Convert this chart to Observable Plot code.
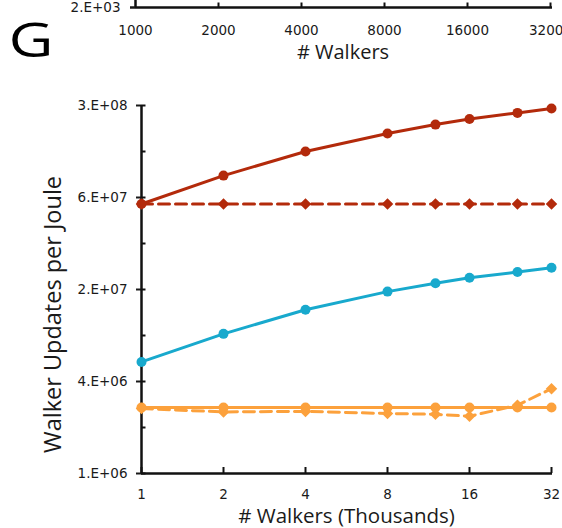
<!DOCTYPE html>
<html><head><meta charset="utf-8">
<script src="https://cdn.jsdelivr.net/npm/d3@7"></script>
<script src="https://cdn.jsdelivr.net/npm/@observablehq/plot@0.6"></script>
<style>
html,body{margin:0;padding:0;background:#fff;}
#chart{width:562px;height:528px;position:relative;overflow:hidden;background:#fff;}
#chart svg{display:block;}
#chart g[aria-label$="tick label"]{font-size:13.5px;font-family:'DejaVu Sans',sans-serif;fill:#1a1a1a;}
</style></head><body><div id="chart"></div>
<script>
// ---- data ----
const walkers = [1, 2, 4, 8, 12, 16, 24, 32];
const redSolid = [5.8e7, 8.9e7, 1.28e8, 1.68e8, 1.92e8, 2.09e8, 2.29e8, 2.45e8];
const redDashed = [5.8e7, 5.8e7, 5.8e7, 5.8e7, 5.8e7, 5.8e7, 5.8e7, 5.8e7];
const blueSolid = [5.37e6, 8.2e6, 1.18e7, 1.55e7, 1.76e7, 1.91e7, 2.08e7, 2.22e7];
const orangeSolid = [2.7e6, 2.7e6, 2.7e6, 2.7e6, 2.7e6, 2.7e6, 2.7e6, 2.7e6];
const orangeDashed = [2.66e6, 2.53e6, 2.55e6, 2.47e6, 2.44e6, 2.37e6, 2.8e6, 3.59e6];

const xTicks = [1, 2, 4, 8, 16, 32];
const xTickLabels = ["1", "2", "4", "8", "16", "32"];
const yTicks = [1e6, 4e6, 1.6e7, 6.4e7, 2.56e8];
const yTickLabels = ["1.E+06", "4.E+06", "2.E+07", "6.E+07", "3.E+08"];
const yMinorTicks = [2e6, 8e6, 3.2e7, 1.28e8];

const topXTicks = [1000, 2000, 4000, 8000, 16000, 32000];
const topXTickLabels = ["1000", "2000", "4000", "8000", "16000", "32000"];
const topYTicks = [2048];
const topYTickLabels = ["2.E+03"];

const panelLabel = "G";
const xLabel = "# Walkers (Thousands)";
const yLabel = "Walker Updates per Joule";
const topXLabel = "# Walkers";

// ---- styling (kept out of the data) ----
const seriesList = [
  {values: orangeDashed, color: "#fca13c", dashed: true},
  {values: orangeSolid, color: "#fca13c", dashed: false},
  {values: blueSolid, color: "#18a9cd", dashed: false},
  {values: redDashed, color: "#b32a0b", dashed: true},
  {values: redSolid, color: "#b32a0b", dashed: false}
];

const labelFont = "'Open Sans', sans-serif";
const tickFont = "'DejaVu Sans', sans-serif";
const tickSizePx = 13.5;
const ink = "#1a1a1a";

const fmt = (ticks, labels) => d => labels[ticks.indexOf(d)];

// ---- top (cropped) panel ----
const tW = 562, tH = 62, tL = 135, tR = 12, tT = 0, tB = 55;
const topPlot = Plot.plot({
  width: tW, height: tH, marginLeft: tL, marginRight: tR, marginTop: tT, marginBottom: tB,
  style: {fontFamily: tickFont, fontSize: tickSizePx + "px", color: ink, background: "#fff", overflow: "visible"},
  x: {type: "log", base: 2, domain: [topXTicks[0], topXTicks[topXTicks.length - 1]]},
  y: {type: "log", domain: [topYTicks[0], topYTicks[0] * 4]},
  marks: [
    Plot.ruleX([topXTicks[0]], {strokeWidth: 2.5, stroke: "#111"}),
    Plot.ruleY(topYTicks, {strokeWidth: 2.5, stroke: "#111", insetRight: -2}),
    Plot.tickX(topXTicks.slice(1), {x: d => d, insetTop: 2.5, strokeWidth: 2, stroke: "#111"}),
    Plot.axisY({ticks: topYTicks, tickFormat: fmt(topYTicks, topYTickLabels), tickSize: 5, tickPadding: 10, strokeWidth: 2.5, label: null, fontSize: tickSizePx, fill: ink}),
    Plot.axisX({ticks: topXTicks, tickFormat: fmt(topXTicks, topXTickLabels), tickSize: 0, tickPadding: 18, label: null, fontSize: tickSizePx, fill: ink}),
    Plot.text([topXLabel], {text: d => d, frameAnchor: "bottom", lineAnchor: "middle", textAnchor: "middle", dy: 45, fontSize: 20, fontFamily: labelFont, fill: ink}),
    Plot.text([panelLabel], {text: d => d, frameAnchor: "top-left", dx: -127, dy: 23, textAnchor: "start", lineAnchor: "top", fontSize: 47, fontFamily: labelFont, fill: "#000"})
  ]
});

// stretch the panel letter to the reference's wide G
for (const t of topPlot.querySelectorAll("text")) {
  if (t.textContent === panelLabel) {
    t.setAttribute("textLength", 45);
    t.setAttribute("lengthAdjust", "spacingAndGlyphs");
  }
}

// ---- main panel ----
const W = 562, H = 466, mL = 141, mR = 11, mT = 43, mB = 55;
const innerW = W - mL - mR, innerH = H - mT - mB;

const seriesMarks = seriesList.flatMap(s => {
  const rows = walkers.map((x, i) => ({x, y: s.values[i]}));
  return [
    Plot.line(rows, {x: "x", y: "y", stroke: s.color, strokeWidth: 3, strokeDasharray: s.dashed ? "11,6" : null}),
    Plot.dot(rows, {x: "x", y: "y", fill: s.color, stroke: "none", r: s.dashed ? 5.2 : 5, symbol: s.dashed ? "diamond2" : "circle"})
  ];
});

const mainPlot = Plot.plot({
  width: W, height: H, marginLeft: mL, marginRight: mR, marginTop: mT, marginBottom: mB,
  style: {fontFamily: tickFont, fontSize: tickSizePx + "px", color: ink, background: "#fff", overflow: "visible"},
  x: {type: "log", base: 2, domain: [xTicks[0], xTicks[xTicks.length - 1]]},
  y: {type: "log", base: 4, domain: [yTicks[0], yTicks[yTicks.length - 1]]},
  marks: [
    Plot.axisX({ticks: xTicks, tickFormat: fmt(xTicks, xTickLabels), tickSize: 0, tickPadding: 16, label: null, fontSize: tickSizePx, fill: ink}),
    Plot.axisY({ticks: yTicks, tickFormat: fmt(yTicks, yTickLabels), tickSize: 5, tickPadding: 9, strokeWidth: 2, label: null, fontSize: tickSizePx, fill: ink}),
    Plot.tickY(yTicks, {y: d => d, insetRight: innerW - 4.5, strokeWidth: 2, stroke: "#111"}),
    Plot.tickY(yMinorTicks, {y: d => d, insetRight: innerW - 4.5, strokeWidth: 2, stroke: "#111"}),
    Plot.tickX(xTicks, {x: d => d, insetTop: innerH - 6, strokeWidth: 2, stroke: "#111"}),
    Plot.ruleX([xTicks[0]], {strokeWidth: 2.5, stroke: "#111"}),
    Plot.ruleY([yTicks[0]], {strokeWidth: 2.5, stroke: "#111", insetRight: -1}),
    ...seriesMarks,
    Plot.text([yLabel], {text: d => d, frameAnchor: "left", rotate: -90, textAnchor: "middle", lineAnchor: "middle", dx: -88, dy: 25, fontSize: 23.5, fontFamily: labelFont, fill: ink}),
    Plot.text([xLabel], {text: d => d, frameAnchor: "bottom", textAnchor: "middle", lineAnchor: "middle", dy: 42.5, fontSize: 20.5, fontFamily: labelFont, fill: ink})
  ]
});

const chart = document.getElementById("chart");
chart.appendChild(topPlot);
chart.appendChild(mainPlot);
</script>
</body></html>
